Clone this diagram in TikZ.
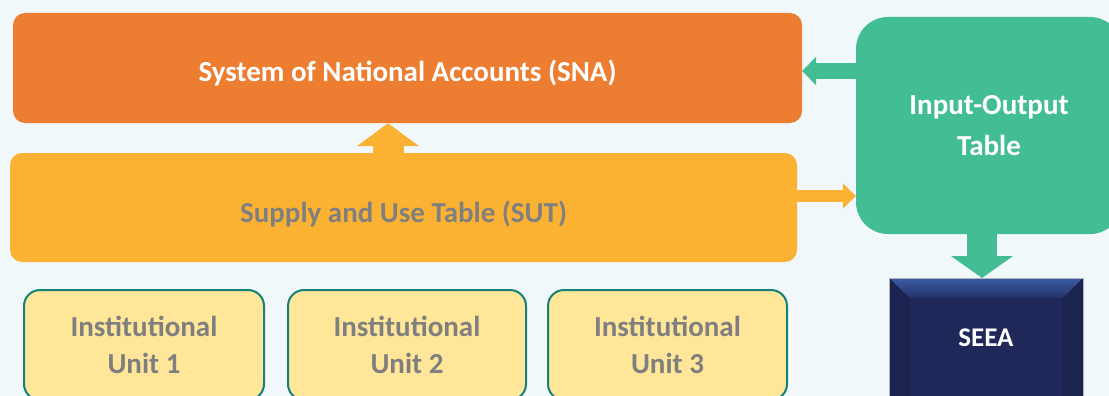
\documentclass[tikz,border=0pt]{standalone}
\usepackage{fontspec}
\setmainfont{Carlito}
\usetikzlibrary{arrows.meta,shadings}
\definecolor{bgblue}{HTML}{F1F8FC}
\definecolor{snaorange}{HTML}{ED7D31}
\definecolor{sutyellow}{HTML}{FBB232}
\definecolor{iogreen}{HTML}{43BD93}
\definecolor{seeanavy}{HTML}{1F2858}
\definecolor{seeatop}{HTML}{3B5CA6}
\definecolor{unitfill}{HTML}{FFE699}
\definecolor{unitline}{HTML}{13807A}
\definecolor{textgray}{HTML}{7F7F7F}
\begin{document}
\begin{tikzpicture}[x=1pt,y=-1pt,
  box/.style={rounded corners=12pt,inner sep=0pt,align=center,
    font=\fontsize{29}{35}\selectfont\bfseries},
  unitbox/.style={box,fill=unitfill,draw=unitline,line width=2pt,
    rounded corners=16pt,minimum width=238pt,minimum height=110pt,
    text=textgray,font=\fontsize{29}{37}\selectfont\bfseries},
  fat/.style={line width=#1}
  ]
  \useasboundingbox[fill=bgblue] (0,0) rectangle (1109,396);
  % main boxes
  \node[box,fill=snaorange,text=white,minimum width=789pt,minimum height=110pt,
    text height=27pt,text depth=0pt]
    (sna) at (407.5,68) {System of National Accounts (SNA)};
  \node[box,fill=sutyellow,text=textgray,minimum width=787pt,minimum height=109pt,
    text height=30pt,text depth=0pt]
    (sut) at (403.5,207.5) {Supply and Use Table (SUT)};
  \node[box,fill=iogreen,text=white,rounded corners=32pt,minimum width=266pt,
    minimum height=217pt,font=\fontsize{29}{41}\selectfont\bfseries]
    (iot) at (989,125.5) {Input-Output\\Table};
  % SEEA with bevel
  \fill[seeanavy] (889,278) rectangle (1083,420);
  \shade[top color=seeatop,bottom color=seeanavy!80!seeatop]
    (889,278) -- (1083,278) -- (1063,298) -- (909,298) -- cycle;
  \fill[seeanavy!88!black] (889,278) -- (909,298) -- (909,420) -- (889,420) -- cycle;
  \fill[seeanavy!88!black] (1083,278) -- (1063,298) -- (1063,420) -- (1083,420) -- cycle;
  \draw[gray!60,line width=0.8pt] (889,278) rectangle (1083,420);
  \node[font=\fontsize{27}{29}\selectfont\bfseries,text=white,
    minimum width=194pt,minimum height=118pt,inner sep=0pt]
    (seea) at (986,338) {SEEA};
  % institutional units
  \node[unitbox,minimum width=240pt] (unit1) at (144,345) {Institutional\\Unit 1};
  \node[unitbox] (unit2) at (407,345) {Institutional\\Unit 2};
  \node[unitbox,minimum width=239pt] (unit3) at (667.5,345) {Institutional\\Unit 3};
  % arrows
  \draw[sutyellow,fat=31pt,-{Triangle[width=61pt,length=23pt]}]
    (sut.north -| 388,0) -- (sna.south -| 388,0);
  \draw[iogreen,fat=16pt,-{Triangle[width=28pt,length=14pt]}]
    (iot.west |- 0,71) -- (sna.east |- 0,71);
  \draw[sutyellow,fat=12pt,-{Triangle[width=25pt,length=13pt]}]
    (sut.east |- 0,196) -- (iot.west |- 0,196);
  \draw[iogreen,fat=30pt,-{Triangle[width=61pt,length=22pt]}]
    (iot.south -| 982,0) -- (982,278);
\end{tikzpicture}
\end{document}
